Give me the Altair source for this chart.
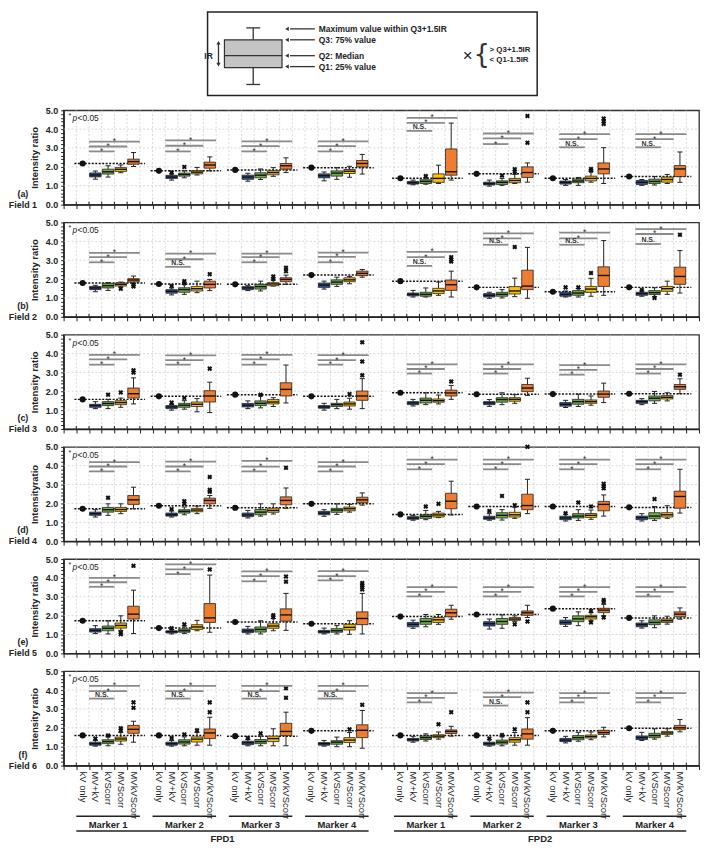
import altair as alt
import pandas as pd

FONT = "Liberation Sans"
SERIES = ["MV+kV", "kVScorr", "MVScorr", "MVkVScorr"]
SERIES_COLORS = ["#2F5597", "#70AD47", "#FFC000", "#ED7D31"]
CATEGORIES = ["kV only", "MV+kV", "kVScorr", "MVScorr", "MVkVScorr"]
MARKERS = ["Marker 1", "Marker 2", "Marker 3", "Marker 4"] * 2
DETECTORS = ["FPD1", "FPD2"]
FIELD_TAGS = ["(a)", "(b)", "(c)", "(d)", "(e)", "(f)"]
FIELD_NAMES = ["Field 1", "Field 2", "Field 3", "Field 4", "Field 5", "Field 6"]
Y_TITLES = ["Intensity ratio", "Intensity ratio", "Intensity ratio",
            "Intensityratio", "Intensity ratio", "Intensity ratio"]

# slot layout of the x axis (groups of 5 categories)
GROUP_START = [1, 7, 13, 19, 26, 32, 38, 44]
N_SLOTS = 50

# ---------------- Field 1 ----------------
F1_KV = [2.18, 1.79, 1.84, 1.96, 1.40, 1.63, 1.40, 1.49]
F1_BOX = [
    [(1.35, 1.47, 1.57, 1.68, 1.78), (1.46, 1.62, 1.74, 1.88, 2.06), (1.69, 1.76, 1.87, 1.96, 2.10), (2.02, 2.14, 2.28, 2.41, 2.76)],
    [(1.30, 1.39, 1.46, 1.55, 1.62), (1.42, 1.51, 1.60, 1.67, 1.80), (1.57, 1.63, 1.72, 1.80, 1.97), (1.79, 1.93, 2.10, 2.25, 2.53)],
    [(1.24, 1.34, 1.46, 1.56, 1.66), (1.33, 1.42, 1.56, 1.69, 1.89), (1.50, 1.58, 1.70, 1.80, 1.96), (1.70, 1.88, 2.06, 2.18, 2.48)],
    [(1.26, 1.42, 1.53, 1.63, 1.73), (1.34, 1.51, 1.67, 1.79, 1.96), (1.45, 1.65, 1.77, 1.86, 2.03), (1.62, 2.00, 2.18, 2.34, 2.66)],
    [(1.05, 1.09, 1.16, 1.23, 1.30), (1.08, 1.12, 1.23, 1.32, 1.42), (1.12, 1.18, 1.39, 1.63, 2.09), (1.30, 1.56, 1.74, 2.95, 4.32)],
    [(0.98, 1.04, 1.11, 1.19, 1.30), (1.02, 1.07, 1.18, 1.26, 1.39), (1.12, 1.16, 1.28, 1.39, 1.60), (1.19, 1.44, 1.70, 2.00, 2.21)],
    [(1.02, 1.09, 1.18, 1.25, 1.33), (1.02, 1.16, 1.25, 1.35, 1.44), (1.19, 1.26, 1.39, 1.51, 1.77), (1.12, 1.63, 1.89, 2.21, 3.02)],
    [(1.02, 1.07, 1.18, 1.28, 1.33), (1.04, 1.12, 1.23, 1.35, 1.49), (1.12, 1.19, 1.33, 1.46, 1.60), (1.18, 1.49, 1.89, 2.07, 2.79)],
]
F1_OUT = [(1, 0, 1.70), (1, 1, 2.00), (4, 1, 1.51), (5, 1, 1.54), (5, 2, 1.88), (5, 2, 1.74),
          (5, 3, 4.70), (5, 3, 3.28), (6, 2, 1.89), (6, 2, 1.80), (6, 3, 4.56), (6, 3, 4.42), (6, 3, 4.28)]
F1_BR = [(2.82, 3.08, 3.34), (2.82, 3.12, 3.40), (2.82, 3.10, 3.35), (2.82, 3.10, 3.35),
         (3.91, 4.33, 4.60), (3.21, 3.51, 3.77), (3.04, 3.47, 3.74), (3.04, 3.47, 3.74)]
F1_FIRST = ["*", "*", "*", "*", "N.S.", "*", "N.S.", "N.S."]

# ---------------- Field 2 ----------------
F2_KV = [1.79, 1.74, 1.72, 2.21, 1.89, 1.56, 1.33, 1.56]
F2_BOX = [
    [(1.33, 1.44, 1.53, 1.61, 1.67), (1.40, 1.53, 1.65, 1.77, 1.81), (1.58, 1.63, 1.72, 1.79, 1.84), (1.75, 1.84, 1.95, 2.02, 2.16)],
    [(1.16, 1.25, 1.35, 1.44, 1.53), (1.19, 1.30, 1.44, 1.54, 1.72), (1.28, 1.37, 1.49, 1.61, 1.89), (1.39, 1.53, 1.72, 1.89, 1.98)],
    [(1.39, 1.44, 1.53, 1.60, 1.65), (1.37, 1.47, 1.60, 1.72, 1.89), (1.63, 1.65, 1.74, 1.81, 1.96), (1.72, 1.86, 1.98, 2.07, 2.21)],
    [(1.47, 1.56, 1.68, 1.79, 1.89), (1.61, 1.72, 1.84, 1.96, 2.10), (1.75, 1.86, 1.96, 2.07, 2.14), (2.10, 2.18, 2.30, 2.42, 2.51)],
    [(1.05, 1.11, 1.19, 1.26, 1.40), (1.05, 1.09, 1.19, 1.30, 1.53), (1.14, 1.23, 1.37, 1.51, 1.84), (1.05, 1.40, 1.70, 1.95, 2.42)],
    [(0.98, 1.05, 1.14, 1.23, 1.30), (1.00, 1.09, 1.19, 1.30, 1.44), (1.07, 1.21, 1.37, 1.60, 2.05), (0.98, 1.44, 1.63, 2.47, 3.68)],
    [(1.05, 1.09, 1.19, 1.30, 1.37), (1.05, 1.14, 1.26, 1.39, 1.50), (1.09, 1.30, 1.47, 1.61, 2.04), (1.14, 1.61, 2.19, 2.65, 4.04)],
    [(1.09, 1.14, 1.23, 1.30, 1.37), (1.06, 1.18, 1.28, 1.39, 1.54), (1.19, 1.35, 1.49, 1.61, 1.89), (1.26, 1.72, 2.14, 2.63, 3.51)],
]
F2_OUT = [(0, 2, 1.49), (0, 3, 1.61), (0, 3, 1.70), (1, 0, 1.63), (1, 1, 1.89), (1, 1, 1.78),
          (1, 3, 2.26), (2, 2, 2.14), (2, 2, 2.00), (2, 3, 2.60), (2, 3, 2.42),
          (4, 3, 3.16), (4, 3, 3.04), (4, 3, 2.93), (5, 2, 3.70), (6, 0, 1.56), (6, 1, 1.56),
          (6, 2, 2.32), (7, 0, 1.42), (7, 1, 1.00), (7, 3, 4.35)]
F2_BR = [(2.89, 3.16, 3.39), (2.65, 3.05, 3.35), (2.89, 3.16, 3.35), (2.89, 3.18, 3.40),
         (2.70, 3.16, 3.44), (3.82, 4.16, 4.42), (3.82, 4.16, 4.46), (3.86, 4.39, 4.65)]
F2_FIRST = ["*", "N.S.", "*", "*", "N.S.", "N.S.", "N.S.", "N.S."]

# ---------------- Field 3 ----------------
F3_KV = [1.57, 1.73, 1.82, 1.73, 1.92, 1.84, 1.85, 1.87]
F3_BOX = [
    [(1.08, 1.15, 1.24, 1.31, 1.45), (1.08, 1.24, 1.35, 1.45, 1.57), (1.15, 1.29, 1.40, 1.50, 1.64), (1.33, 1.64, 1.87, 2.17, 2.71)],
    [(1.00, 1.08, 1.17, 1.24, 1.30), (1.05, 1.15, 1.26, 1.36, 1.50), (0.91, 1.19, 1.31, 1.43, 1.61), (0.87, 1.43, 1.75, 2.03, 2.48)],
    [(1.08, 1.17, 1.26, 1.35, 1.49), (1.12, 1.24, 1.36, 1.49, 1.75), (1.19, 1.33, 1.43, 1.56, 1.66), (1.38, 1.75, 2.10, 2.45, 3.39)],
    [(1.00, 1.10, 1.17, 1.24, 1.36), (1.08, 1.19, 1.29, 1.36, 1.57), (1.05, 1.22, 1.33, 1.43, 1.63), (1.08, 1.52, 1.75, 2.01, 2.67)],
    [(1.22, 1.29, 1.38, 1.45, 1.57), (1.29, 1.38, 1.52, 1.64, 1.92), (1.33, 1.42, 1.50, 1.59, 1.80), (1.57, 1.75, 1.91, 2.06, 2.31)],
    [(1.20, 1.29, 1.38, 1.45, 1.56), (1.29, 1.42, 1.56, 1.66, 1.92), (1.36, 1.47, 1.57, 1.66, 1.82), (1.78, 1.98, 2.17, 2.36, 2.69)],
    [(1.14, 1.21, 1.31, 1.40, 1.52), (1.19, 1.31, 1.45, 1.57, 1.85), (1.26, 1.36, 1.45, 1.54, 1.75), (1.40, 1.68, 1.85, 2.01, 2.43)],
    [(1.29, 1.36, 1.45, 1.52, 1.61), (1.36, 1.49, 1.63, 1.75, 1.99), (1.49, 1.59, 1.68, 1.77, 1.92), (1.87, 2.10, 2.24, 2.36, 2.66)],
]
F3_OUT = [(0, 1, 1.82), (0, 2, 1.94), (0, 3, 3.11), (0, 3, 2.99), (1, 0, 1.40), (1, 1, 1.65),
          (1, 3, 3.20), (2, 1, 1.82), (3, 2, 1.85), (3, 3, 4.60), (3, 3, 3.58), (3, 3, 2.85),
          (4, 3, 2.52), (7, 3, 2.88)]
F3_BR = [(3.41, 3.69, 3.93), (3.41, 3.65, 3.90), (3.41, 3.69, 3.93), (3.41, 3.65, 3.92),
         (2.94, 3.18, 3.43), (2.94, 3.18, 3.43), (2.88, 3.13, 3.39), (2.94, 3.18, 3.43)]
F3_FIRST = ["*"] * 8

# ---------------- Field 4 ----------------
F4_KV = [1.72, 1.88, 1.77, 1.98, 1.42, 1.84, 1.84, 1.79]
F4_BOX = [
    [(1.28, 1.37, 1.46, 1.54, 1.67), (1.37, 1.54, 1.67, 1.79, 1.98), (1.46, 1.58, 1.68, 1.79, 1.98), (1.72, 1.95, 2.19, 2.42, 2.86)],
    [(1.28, 1.33, 1.40, 1.49, 1.60), (1.40, 1.49, 1.58, 1.67, 1.81), (1.46, 1.56, 1.65, 1.74, 1.86), (1.74, 1.98, 2.16, 2.28, 2.42)],
    [(1.23, 1.30, 1.39, 1.49, 1.63), (1.33, 1.40, 1.54, 1.68, 1.98), (1.44, 1.53, 1.63, 1.75, 1.98), (1.74, 1.93, 2.16, 2.35, 2.82)],
    [(1.32, 1.40, 1.49, 1.58, 1.67), (1.42, 1.53, 1.65, 1.74, 1.98), (1.54, 1.61, 1.72, 1.81, 1.95), (1.91, 2.04, 2.19, 2.33, 2.56)],
    [(1.11, 1.16, 1.23, 1.30, 1.37), (1.14, 1.21, 1.32, 1.40, 1.63), (1.25, 1.28, 1.39, 1.49, 1.58), (1.39, 1.72, 2.12, 2.54, 3.18)],
    [(1.11, 1.16, 1.23, 1.32, 1.46), (1.12, 1.23, 1.37, 1.51, 1.67), (1.21, 1.28, 1.40, 1.53, 1.80), (1.46, 1.67, 1.89, 2.49, 3.28)],
    [(1.07, 1.14, 1.23, 1.32, 1.42), (1.10, 1.23, 1.33, 1.46, 1.67), (1.16, 1.26, 1.37, 1.47, 1.65), (1.33, 1.61, 1.95, 2.11, 2.45)],
    [(1.07, 1.14, 1.25, 1.33, 1.46), (1.10, 1.19, 1.33, 1.51, 1.84), (1.21, 1.28, 1.40, 1.51, 1.88), (1.49, 1.75, 2.37, 2.65, 3.81)],
]
F4_OUT = [(0, 1, 2.30), (1, 0, 1.70), (1, 1, 2.12), (1, 1, 1.98), (1, 3, 3.40), (1, 3, 2.72),
          (1, 3, 2.62), (2, 3, 3.89), (4, 1, 1.84), (4, 2, 1.98), (5, 0, 1.60), (5, 1, 2.40),
          (5, 2, 1.91), (5, 3, 5.00), (6, 0, 1.48), (6, 1, 2.05), (6, 2, 1.84), (6, 3, 3.04),
          (6, 3, 2.91), (6, 3, 2.80), (7, 1, 2.23)]
F4_BR = [(3.70, 3.96, 4.19), (3.70, 3.96, 4.22), (3.70, 3.95, 4.26), (3.70, 3.96, 4.19),
         (3.81, 4.09, 4.32), (3.81, 4.09, 4.32), (3.81, 4.09, 4.32), (3.81, 4.09, 4.32)]
F4_FIRST = ["*"] * 8

# ---------------- Field 5 ----------------
F5_KV = [1.73, 1.34, 1.66, 1.57, 1.95, 2.06, 2.37, 1.88]
F5_BOX = [
    [(1.05, 1.13, 1.22, 1.31, 1.47), (1.03, 1.20, 1.33, 1.45, 1.73), (1.22, 1.34, 1.48, 1.61, 1.99), (1.05, 1.82, 2.08, 2.50, 3.35)],
    [(1.03, 1.08, 1.15, 1.20, 1.26), (1.05, 1.12, 1.20, 1.29, 1.45), (1.20, 1.27, 1.40, 1.52, 1.75), (1.12, 1.64, 1.88, 2.64, 4.15)],
    [(1.03, 1.10, 1.19, 1.29, 1.43), (1.03, 1.13, 1.27, 1.40, 1.73), (1.20, 1.33, 1.45, 1.57, 1.85), (1.22, 1.71, 2.04, 2.36, 3.18)],
    [(1.03, 1.08, 1.15, 1.22, 1.34), (1.03, 1.12, 1.20, 1.31, 1.47), (1.01, 1.24, 1.38, 1.54, 1.73), (1.03, 1.52, 1.85, 2.20, 3.18)],
    [(1.33, 1.41, 1.54, 1.64, 1.76), (1.41, 1.54, 1.69, 1.85, 2.06), (1.54, 1.64, 1.78, 1.90, 2.06), (1.81, 1.94, 2.15, 2.34, 2.55)],
    [(1.29, 1.45, 1.57, 1.68, 1.82), (1.33, 1.54, 1.69, 1.85, 2.04), (1.68, 1.75, 1.82, 1.90, 1.99), (1.90, 2.02, 2.15, 2.25, 2.55)],
    [(1.43, 1.54, 1.64, 1.76, 1.90), (1.47, 1.68, 1.83, 1.99, 2.20), (1.73, 1.82, 1.94, 2.02, 2.16), (2.00, 2.16, 2.29, 2.39, 2.60)],
    [(1.34, 1.41, 1.52, 1.61, 1.73), (1.36, 1.52, 1.64, 1.78, 1.99), (1.55, 1.64, 1.73, 1.82, 1.97), (1.81, 1.94, 2.08, 2.20, 2.41)],
]
F5_OUT = [(0, 2, 1.10), (0, 2, 1.02), (0, 3, 4.64), (1, 0, 1.33), (1, 1, 1.54), (1, 3, 4.45),
          (2, 2, 2.02), (2, 2, 1.92), (2, 3, 4.07), (2, 3, 3.80), (3, 3, 3.73), (3, 3, 3.61),
          (3, 3, 3.51), (3, 3, 3.39), (5, 2, 1.54), (5, 3, 1.69), (6, 2, 2.25), (6, 2, 1.64),
          (6, 3, 2.83), (6, 3, 2.72), (6, 3, 1.90)]
F5_BR = [(3.53, 3.77, 4.00), (4.20, 4.45, 4.72), (3.82, 4.10, 4.35), (3.87, 4.10, 4.36),
         (3.02, 3.26, 3.51), (3.02, 3.26, 3.51), (3.02, 3.26, 3.51), (3.02, 3.26, 3.51)]
F5_FIRST = ["*"] * 8

# ---------------- Field 6 ----------------
F6_KV = [1.60, 1.60, 1.56, 1.84, 1.60, 1.60, 1.84, 1.98]
F6_BOX = [
    [(1.03, 1.08, 1.16, 1.24, 1.33), (1.05, 1.16, 1.27, 1.37, 1.52), (1.13, 1.30, 1.41, 1.51, 1.75), (1.24, 1.71, 1.92, 2.13, 2.35)],
    [(1.03, 1.08, 1.16, 1.24, 1.33), (1.05, 1.14, 1.25, 1.37, 1.52), (1.08, 1.25, 1.40, 1.52, 1.75), (1.08, 1.43, 1.73, 1.94, 2.56)],
    [(1.05, 1.11, 1.21, 1.29, 1.38), (1.05, 1.16, 1.27, 1.38, 1.57), (1.05, 1.27, 1.43, 1.56, 1.95), (1.05, 1.59, 1.81, 2.24, 2.83)],
    [(1.03, 1.08, 1.16, 1.22, 1.33), (1.00, 1.13, 1.24, 1.32, 1.51), (1.00, 1.22, 1.35, 1.48, 1.75), (0.92, 1.48, 1.87, 2.16, 2.92)],
    [(1.24, 1.30, 1.38, 1.44, 1.55), (1.30, 1.38, 1.48, 1.57, 1.68), (1.40, 1.48, 1.56, 1.63, 1.78), (1.56, 1.70, 1.81, 1.89, 2.08)],
    [(1.03, 1.08, 1.16, 1.24, 1.37), (1.05, 1.14, 1.24, 1.35, 1.52), (1.08, 1.24, 1.37, 1.48, 1.75), (1.08, 1.40, 1.68, 1.94, 2.54)],
    [(1.20, 1.27, 1.35, 1.44, 1.55), (1.29, 1.37, 1.48, 1.59, 1.76), (1.37, 1.46, 1.54, 1.62, 1.78), (1.52, 1.65, 1.75, 1.87, 2.03)],
    [(1.33, 1.38, 1.48, 1.57, 1.76), (1.40, 1.48, 1.59, 1.71, 1.95), (1.56, 1.65, 1.73, 1.81, 1.95), (1.79, 1.90, 2.00, 2.13, 2.44)],
]
F6_OUT = [(0, 0, 1.43), (0, 1, 1.60), (0, 2, 1.98), (0, 2, 1.87), (0, 3, 3.35), (0, 3, 3.06),
          (1, 0, 1.46), (1, 1, 1.65), (1, 2, 1.87), (1, 3, 3.35), (1, 3, 2.83),
          (2, 0, 1.46), (2, 1, 1.71), (2, 3, 4.10), (2, 3, 3.59), (3, 2, 1.92), (3, 3, 3.22),
          (4, 2, 2.19), (4, 3, 2.83), (5, 0, 1.44), (5, 1, 1.62), (5, 2, 1.92), (5, 3, 3.35), (5, 3, 2.83)]
F6_BR = [(3.55, 3.95, 4.22), (3.55, 3.95, 4.22), (3.55, 3.95, 4.22), (3.55, 3.95, 4.22),
         (3.35, 3.59, 3.84), (3.18, 3.63, 3.87), (3.35, 3.59, 3.84), (3.35, 3.59, 3.84)]
F6_FIRST = ["N.S.", "N.S.", "N.S.", "N.S.", "*", "N.S.", "*", "*"]

FIELDS = [
    (F1_KV, F1_BOX, F1_OUT, F1_BR, F1_FIRST),
    (F2_KV, F2_BOX, F2_OUT, F2_BR, F2_FIRST),
    (F3_KV, F3_BOX, F3_OUT, F3_BR, F3_FIRST),
    (F4_KV, F4_BOX, F4_OUT, F4_BR, F4_FIRST),
    (F5_KV, F5_BOX, F5_OUT, F5_BR, F5_FIRST),
    (F6_KV, F6_BOX, F6_OUT, F6_BR, F6_FIRST),
]

W, H = 640, 95
XS = alt.Scale(domain=[0, N_SLOTS], nice=False, zero=False)
YS = alt.Scale(domain=[0, 5], nice=False, zero=True)
COLOR = alt.Color("series:N", scale=alt.Scale(domain=SERIES, range=SERIES_COLORS), legend=None)
Y_MINOR = [round(0.2 * k, 1) for k in range(26)]


def X(f):
    return alt.X(f, type="quantitative", scale=XS,
                 axis=alt.Axis(values=list(range(N_SLOTS + 1)), labels=False, ticks=True,
                               tickSize=4, tickColor="#222", domainColor="#222",
                               domainWidth=1.5, grid=False, title=None))


def Y(f, title):
    return alt.Y(f, type="quantitative", scale=YS,
                 axis=alt.Axis(values=Y_MINOR,
                               labelExpr="abs(datum.value - round(datum.value)) < 0.01 ? format(datum.value, '.1f') : ''",
                               tickSize=3, tickColor="#222", domainColor="#222", domainWidth=1.5,
                               labelFont=FONT, labelFontSize=9, labelFontWeight="bold",
                               labelColor="#222", labelPadding=3, grid=False,
                               title=title, titleFont=FONT, titleFontSize=9.5,
                               titleFontWeight="bold", titleColor="#222", titlePadding=6))


def panel(i, bottom):
    kv, box, out, br, first = FIELDS[i]
    title = Y_TITLES[i]
    brows, krows, orows, rrows = [], [], [], []
    for g in range(8):
        st = GROUP_START[g]
        krows.append(dict(x=st + 0.5, xa=st - 0.15, xb=st + 5.4, v=kv[g]))
        for s in range(4):
            lo, q1, md, q3, hi = box[g][s]
            slot = st + 1 + s
            brows.append(dict(series=SERIES[s], x=slot + 0.05, x2=slot + 0.95, xc=slot + 0.5,
                              cl=slot + 0.3, cr=slot + 0.7, lo=lo, q1=q1, md=md, q3=q3, hi=hi))
        for k in range(3):
            lab = first[g] if k == 0 else "*"
            rrows.append(dict(xa=st + 1, xb=st + 3 + k, xm=st + 2 + k * 0.5, v=br[g][k], lab=lab))
    for g, s, v in out:
        orows.append(dict(x=GROUP_START[g] + 1 + s + 0.5, v=v))
    bdf, kdf, odf, rdf = map(pd.DataFrame, (brows, krows, orows, rrows))

    vgrid = alt.Chart(pd.DataFrame({"x": list(range(1, N_SLOTS))})).mark_rule(
        color="#c8c8c8", strokeDash=[2, 2], strokeWidth=0.7).encode(
        x=X("x"), y=alt.value(0), y2=alt.value(H))
    hgrid = alt.Chart(pd.DataFrame({"v": [1.0, 2.0, 3.0, 4.0]})).mark_rule(
        color="#c8c8c8", strokeDash=[2, 2], strokeWidth=0.7).encode(
        y=Y("v", title), x=alt.value(0), x2=alt.value(W))
    tin = alt.Chart(pd.DataFrame({"x": list(range(1, N_SLOTS))})).mark_rule(
        color="#222", strokeWidth=1).encode(x=X("x"), y=alt.value(H - 3), y2=alt.value(H))
    kline = alt.Chart(kdf).mark_rule(color="#111", strokeDash=[2, 1.5], strokeWidth=1.5).encode(
        x=X("xa"), x2="xb", y=Y("v", title))
    kdot = alt.Chart(kdf).mark_circle(color="#111", size=38, opacity=1).encode(
        x=X("x"), y=Y("v", title))
    wlo = alt.Chart(bdf).mark_rule(color="#222", strokeWidth=1).encode(x=X("xc"), y=Y("lo", title), y2="q1")
    whi = alt.Chart(bdf).mark_rule(color="#222", strokeWidth=1).encode(x=X("xc"), y=Y("q3", title), y2="hi")
    clo = alt.Chart(bdf).mark_rule(color="#222", strokeWidth=1).encode(x=X("cl"), x2="cr", y=Y("lo", title))
    chi = alt.Chart(bdf).mark_rule(color="#222", strokeWidth=1).encode(x=X("cl"), x2="cr", y=Y("hi", title))
    boxes = alt.Chart(bdf).mark_rect(stroke="#222", strokeWidth=0.8).encode(
        x=X("x"), x2="x2", y=Y("q1", title), y2="q3", color=COLOR)
    med = alt.Chart(bdf).mark_rule(color="#111", strokeWidth=1.4).encode(
        x=X("x"), x2="x2", y=Y("md", title))
    outs = alt.Chart(odf).mark_point(shape="cross", angle=45, filled=True, color="#111",
                                     size=26, opacity=1).encode(x=X("x"), y=Y("v", title))
    brl = alt.Chart(rdf).mark_rule(color="#8a8a8a", strokeWidth=1.8).encode(
        x=X("xa"), x2="xb", y=Y("v", title))
    star = alt.Chart(rdf).transform_filter("datum.lab == '*'").mark_text(
        font=FONT, fontSize=8.5, color="#333", baseline="alphabetic", dy=2.5).encode(
        x=X("xm"), y=Y("v", title), text="lab:N")
    ns = alt.Chart(rdf).transform_filter("datum.lab != '*'").mark_text(
        font=FONT, fontSize=7, fontWeight="bold", color="#333", baseline="alphabetic", dy=-1.5).encode(
        x=X("xm"), y=Y("v", title), text="lab:N")
    one = pd.DataFrame({"a": [0]})
    p1 = alt.Chart(one).mark_text(font=FONT, fontSize=7, color="#222", align="left",
                                  baseline="middle").encode(x=alt.value(5), y=alt.value(6), text=alt.value("*"))
    p2 = alt.Chart(one).mark_text(font=FONT, fontSize=8.5, fontStyle="italic", color="#222", align="left",
                                  baseline="middle").encode(x=alt.value(9), y=alt.value(8), text=alt.value("p"))
    p3 = alt.Chart(one).mark_text(font=FONT, fontSize=8.5, color="#222", align="left",
                                  baseline="middle").encode(x=alt.value(14), y=alt.value(8), text=alt.value("<0.05"))
    tag = alt.Chart(one).mark_text(font=FONT, fontSize=9, fontWeight="bold", color="#222",
                                   align="center", baseline="middle").encode(
        x=alt.value(-41), y=alt.value(H - 11), text=alt.value(FIELD_TAGS[i]))
    fname = alt.Chart(one).mark_text(font=FONT, fontSize=9, fontWeight="bold", color="#222",
                                     align="center", baseline="middle").encode(
        x=alt.value(-41), y=alt.value(H), text=alt.value(FIELD_NAMES[i]))
    layers = [vgrid, hgrid, tin, kline, wlo, whi, clo, chi, boxes, med, kdot, outs,
              brl, star, ns, p1, p2, p3, tag, fname]
    if bottom:
        crow, mrow, frow = [], [], []
        for g in range(8):
            st = GROUP_START[g]
            for k in range(5):
                crow.append(dict(x=st + k + 0.5, lab=CATEGORIES[k]))
            mrow.append(dict(xa=st, xb=st + 5, xm=st + 2.5, lab=MARKERS[g]))
        for d in range(2):
            a = GROUP_START[4 * d]
            b = GROUP_START[4 * d + 3] + 5
            frow.append(dict(xa=a, xb=b, xm=(a + b) / 2, lab=DETECTORS[d]))
        cdf, mdf, fdf = map(pd.DataFrame, (crow, mrow, frow))
        layers += [
            alt.Chart(cdf).mark_text(font=FONT, fontSize=9.5, color="#222", angle=90, align="left",
                                     baseline="middle").encode(x=X("x"), y=alt.value(H + 6), text="lab:N"),
            alt.Chart(mdf).mark_rule(color="#222", strokeWidth=1.5).encode(
                x=X("xa"), x2="xb", y=alt.value(H + 51)),
            alt.Chart(mdf).mark_text(font=FONT, fontSize=9.5, fontWeight="bold", color="#222",
                                     baseline="middle").encode(x=X("xm"), y=alt.value(H + 60), text="lab:N"),
            alt.Chart(fdf).mark_rule(color="#222", strokeWidth=1.5).encode(
                x=X("xa"), x2="xb", y=alt.value(H + 66)),
            alt.Chart(fdf).mark_text(font=FONT, fontSize=9.5, fontWeight="bold", color="#222",
                                     baseline="middle").encode(x=X("xm"), y=alt.value(H + 74), text="lab:N"),
        ]
    return alt.layer(*layers).properties(width=W, height=H)


# ---------------- legend diagram ----------------
LW, LH = 640, 81
LX = alt.Scale(domain=[0, LW], nice=False, zero=False)
LY = alt.Scale(domain=[0, LH], nice=False, zero=False, reverse=True)
LEG_TEXT = ["Maximum value within Q3+1.5IR", "Q3: 75% value", "Q2: Median", "Q1: 25% value"]
LEG_TEXT_Y = [17, 28, 44, 55]
OUT_TEXT = ["> Q3+1.5IR", "< Q1-1.5IR"]


def lx(f):
    return alt.X(f, type="quantitative", scale=LX, axis=None)


def ly(f):
    return alt.Y(f, type="quantitative", scale=LY, axis=None)


frame = alt.Chart(pd.DataFrame([dict(a=145, b=477, c=0, d=84)])).mark_rect(
    fill="white", stroke="#222", strokeWidth=1.5).encode(x=lx("a"), x2="b", y=ly("c"), y2="d")
lbox = alt.Chart(pd.DataFrame([dict(a=162, b=220, c=28, d=56)])).mark_rect(
    fill="#c4c4c4", stroke="#333", strokeWidth=1.2).encode(x=lx("a"), x2="b", y=ly("c"), y2="d")
lhr = alt.Chart(pd.DataFrame([dict(a=162, b=220, y=44), dict(a=184, b=198, y=16), dict(a=184, b=198, y=73)])).mark_rule(
    color="#333", strokeWidth=1.3).encode(x=lx("a"), x2="b", y=ly("y"))
lvr = alt.Chart(pd.DataFrame([dict(x=191, c=16, d=28), dict(x=191, c=56, d=73), dict(x=156, c=31, d=53)])).mark_rule(
    color="#333", strokeWidth=1.3).encode(x=lx("x"), y=ly("c"), y2="d")
ltu = alt.Chart(pd.DataFrame([dict(x=156, y=31)])).mark_point(shape="triangle-up", filled=True, color="#333",
                                                              size=18, opacity=1).encode(x=lx("x"), y=ly("y"))
ltd = alt.Chart(pd.DataFrame([dict(x=156, y=53)])).mark_point(shape="triangle-down", filled=True, color="#333",
                                                              size=18, opacity=1).encode(x=lx("x"), y=ly("y"))
ir = alt.Chart(pd.DataFrame([dict(x=146, y=44, t="IR")])).mark_text(
    font=FONT, fontSize=8.5, fontWeight="bold", color="#222").encode(x=lx("x"), y=ly("y"), text="t:N")
arr_df = pd.DataFrame(dict(a=[228] * 4, b=[253] * 4, y=LEG_TEXT_Y, t=LEG_TEXT, tx=[257] * 4, h=[225] * 4))
arr = alt.Chart(arr_df).mark_rule(color="#333", strokeWidth=1.3).encode(x=lx("a"), x2="b", y=ly("y"))
arrh = alt.Chart(arr_df).mark_point(shape="triangle-left", filled=True, color="#333", size=18, opacity=1).encode(
    x=lx("h"), y=ly("y"))
arrt = alt.Chart(arr_df).mark_text(font=FONT, fontSize=8.5, fontWeight="bold", color="#222", align="left",
                                   baseline="middle").encode(x=lx("tx"), y=ly("y"), text="t:N")
xmark = alt.Chart(pd.DataFrame([dict(x=407, y=44, t="×")])).mark_text(
    font=FONT, fontSize=17, color="#222", baseline="middle").encode(x=lx("x"), y=ly("y"), text="t:N")
brace = alt.Chart(pd.DataFrame([dict(x=421, y=43, t="{")])).mark_text(
    font="DejaVu Sans", fontSize=26, fontWeight="normal", color="#333", baseline="middle").encode(
    x=lx("x"), y=ly("y"), text="t:N")
otxt = alt.Chart(pd.DataFrame(dict(x=[429, 429], y=[38, 48], t=OUT_TEXT))).mark_text(
    font=FONT, fontSize=8, fontWeight="bold", color="#222", align="left", baseline="middle").encode(
    x=lx("x"), y=ly("y"), text="t:N")
legend = alt.layer(frame, lbox, lhr, lvr, ltu, ltd, ir, arr, arrh, arrt, xmark, brace, otxt).properties(
    width=LW, height=LH, view=alt.ViewBackground(stroke=None))

panels = [panel(i, i == 5) for i in range(6)]

chart = alt.vconcat(legend, *panels, spacing=18, bounds="flush").properties(
    padding=0, background="white"
).configure_view(stroke="#333", strokeWidth=1.3)

chart.save("out.html", embed_options={"renderer": "svg", "actions": False})
